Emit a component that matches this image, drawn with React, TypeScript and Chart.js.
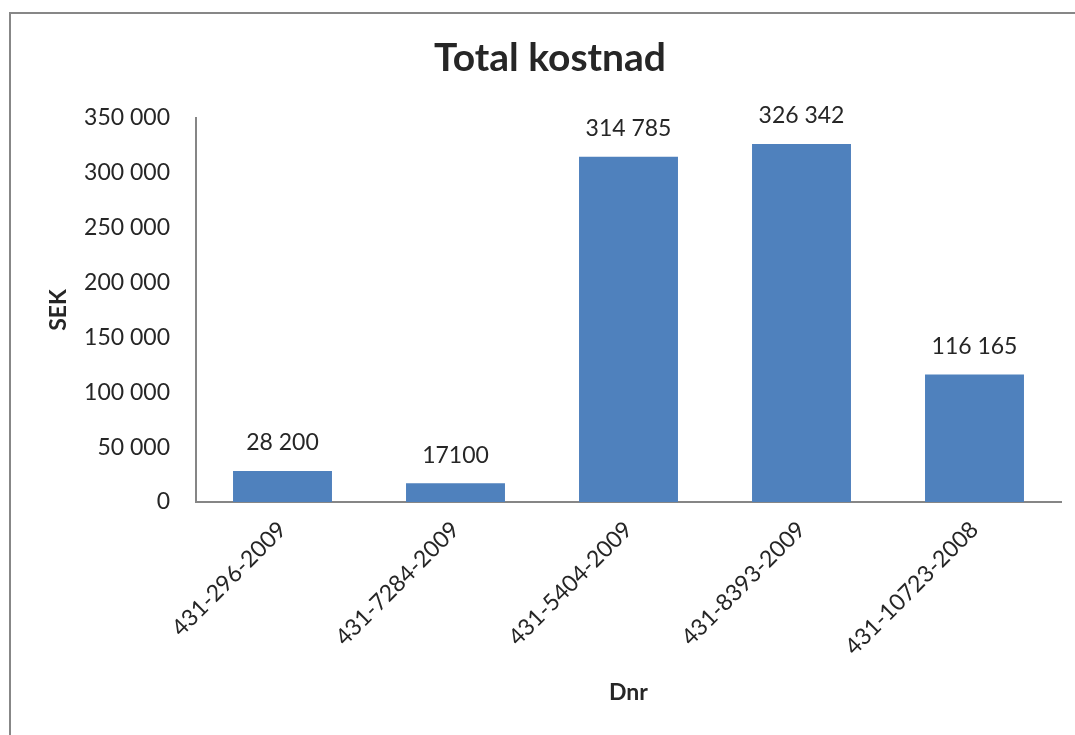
import React, { useEffect, useRef } from "react";
import { Chart, registerables } from "chart.js";

Chart.register(...registerables);

const categories = ["431-296-2009", "431-7284-2009", "431-5404-2009", "431-8393-2009", "431-10723-2008"];
const costValues = [28200, 17100, 314785, 326342, 116165];
const valueLabels = ["28 200", "17100", "314 785", "326 342", "116 165"];
const yTickValues = [0, 50000, 100000, 150000, 200000, 250000, 300000, 350000];

const chartTitle = "Total kostnad";
const yTitle = "SEK";
const xTitle = "Dnr";

const FONT = "Lato, 'Open Sans', sans-serif";
const TEXT = "#262626";

function fmt(v: number): string {
  return String(v).replace(/\B(?=(\d{3})+(?!\d))/g, " ");
}

const textPlugin = {
  id: "textPlugin",
  afterDatasetsDraw(chart: any) {
    const ctx = chart.ctx;
    const area = chart.chartArea;
    ctx.save();
    ctx.fillStyle = TEXT;
    ctx.textAlign = "center";
    ctx.textBaseline = "middle";
    // data labels
    ctx.font = `23px ${FONT}`;
    const meta = chart.getDatasetMeta(0);
    meta.data.forEach((bar: any, i: number) => {
      ctx.fillText(valueLabels[i], bar.x, bar.y - 28);
    });
    // title
    ctx.font = `bold 39px ${FONT}`;
    ctx.fillText(chartTitle, 550, 58);
    // x title
    ctx.font = `bold 23px ${FONT}`;
    ctx.fillText(xTitle, (area.left + area.right) / 2 + 0, 693);
    // y title
    ctx.translate(59, 310);
    ctx.rotate(-Math.PI / 2);
    ctx.fillText(yTitle, 0, 0);
    ctx.restore();
  },
};

export default function App() {
  const ref = useRef<HTMLCanvasElement | null>(null);
  useEffect(() => {
    if (!ref.current) return;
    const chart = new Chart(ref.current, {
      type: "bar",
      data: {
        labels: categories,
        datasets: [
          {
            data: costValues,
            backgroundColor: "#4F81BD",
            borderWidth: 0,
            categoryPercentage: 1,
            barPercentage: 0.572,
          },
        ],
      },
      options: {
        responsive: false,
        animation: false,
        layout: { padding: { top: 118, right: 14, bottom: 0, left: 0 } },
        plugins: {
          legend: { display: false },
          title: { display: false },
          tooltip: { enabled: false },
        },
        scales: {
          x: {
            grid: { display: false, drawTicks: false },
            border: { display: true, color: "#868686", width: 2 },
            ticks: {
              color: TEXT,
              font: { family: FONT, size: 23 },
              minRotation: 45,
              maxRotation: 45,
              padding: 14,
              autoSkip: false,
            },
            afterFit(scale: any) {
              scale.height = 233;
            },
          },
          y: {
            min: 0,
            max: 350000,
            grid: { display: false, drawTicks: false },
            border: { display: true, color: "#868686", width: 2 },
            afterBuildTicks(scale: any) {
              scale.ticks = yTickValues.map((v) => ({ value: v }));
            },
            ticks: {
              color: TEXT,
              font: { family: FONT, size: 23 },
              padding: 26,
              callback: (v: any) => fmt(Number(v)),
            },
            afterFit(scale: any) {
              scale.width = 196;
            },
          },
        },
      },
      plugins: [textPlugin],
    });
    return () => chart.destroy();
  }, []);

  return (
    <div style={{ position: "fixed", left: 0, top: 0, width: 1075, height: 735, overflow: "hidden", background: "#fff" }}>
      <div
        style={{
          position: "absolute",
          left: 9,
          top: 12,
          width: 1100,
          height: 800,
          border: "2px solid #878787",
          boxSizing: "border-box",
        }}
      />
      <canvas ref={ref} width={1075} height={735} style={{ position: "absolute", left: 0, top: 0 }} />
    </div>
  );
}
